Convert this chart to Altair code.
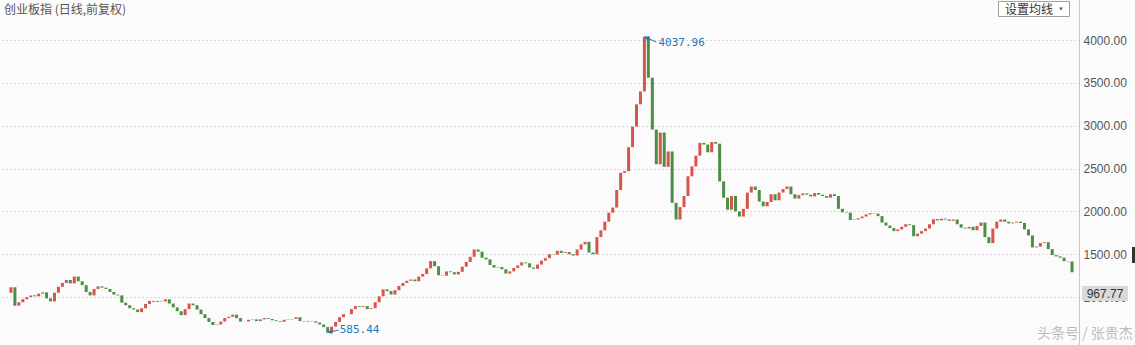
import altair as alt
import pandas as pd

# ---- text ----
title_text = "创业板指 (日线,前复权)"
button_text = "设置均线"
watermark_text = "头条号 / 张贵杰"
last_price_label = "967.77"
tick_values = [1000, 1500, 2000, 2500, 3000, 3500, 4000]

closes = [
    1050, 1115, 900, 940, 975, 1000, 1020, 1010, 1040, 1055,
    985, 950, 1050, 1120, 1165, 1200, 1160, 1240, 1185, 1140,
    1060, 1020, 1095, 1125, 1110, 1095, 1060, 1030, 1020, 935,
    905, 870, 855, 825, 870, 920, 955, 945, 955, 950,
    975, 925, 880, 835, 790, 860, 925, 905, 855, 800,
    755, 710, 675, 680, 715, 755, 770, 795, 755, 715,
    715, 735, 740, 720, 740, 755, 745, 730, 720, 712,
    735, 740, 745, 765, 720, 715, 722, 718, 702, 680,
    650, 585.44, 655, 710, 765, 800, 800, 860, 895, 885,
    895, 860, 870, 940, 1010, 1090, 1070, 1030, 1080, 1130,
    1165, 1190, 1205, 1185, 1240, 1270, 1335, 1420, 1360, 1255,
    1250, 1300, 1290, 1265, 1295, 1355, 1410, 1470, 1555, 1530,
    1460, 1440, 1375, 1345, 1350, 1325, 1275, 1300, 1340, 1370,
    1405, 1395, 1345, 1330, 1380, 1425, 1455, 1500, 1495, 1540,
    1515, 1525, 1500, 1485, 1555, 1615, 1645, 1520, 1500, 1700,
    1780, 1880, 1985, 2045, 2250, 2450, 2470, 2750, 2990, 3250,
    3400, 4037.96, 3560, 2955, 2550, 2920, 2520, 2700, 2100, 1905,
    2050, 2180, 2410, 2525, 2650, 2800, 2780, 2690, 2810, 2790,
    2350, 2160, 2020, 2180, 2000, 1940, 2030, 2220, 2290, 2250,
    2115, 2060, 2110, 2200, 2130, 2220, 2260, 2290, 2200, 2150,
    2190, 2210, 2195, 2175, 2215, 2195, 2180, 2160, 2200, 2180,
    2030, 1990, 1985, 1900, 1905, 1920, 1940, 1965, 1980, 1975,
    1945, 1870, 1835, 1805, 1770, 1790, 1820, 1850, 1840, 1710,
    1740, 1770, 1800, 1850, 1910, 1895, 1915, 1905, 1890, 1905,
    1850, 1810, 1800, 1820, 1780, 1830, 1870, 1700, 1630, 1800,
    1880, 1905, 1880, 1860, 1870, 1880, 1865, 1790, 1720, 1580,
    1590, 1630, 1640, 1560, 1490, 1475, 1460, 1420, 1415, 1290,
]

# ---- annotated extremes ----
ann_labels = ["4037.96", "585.44"]
ann_index = [161, 81]
ann_values = [4037.96, 585.44]

n = len(closes)
df = pd.DataFrame({"i": list(range(n)), "c": closes})
df["o"] = df["c"].shift(1).fillna(df["c"])

W, H = 1079, 345
xscale = alt.Scale(domain=[-0.5, n - 0.5], nice=False, zero=False)
yscale = alt.Scale(domain=[441, 4467], nice=False, zero=False)

RED = "#d64c42"
GREEN = "#42893a"
BLUE = "#2277bb"

base = alt.Chart(df)

candles = base.mark_bar(width=3, opacity=0.95).encode(
    x=alt.X("i:Q", scale=xscale, axis=None),
    y=alt.Y(
        "o:Q",
        scale=yscale,
        axis=alt.Axis(
            orient="right",
            values=tick_values,
            format=".2f",
            title=None,
            ticks=False,
            labelFont="Liberation Sans",
            labelFontSize=12,
            labelColor="#555555",
            labelPadding=4,
            domainColor="#c8c8c8",
            grid=True,
            gridColor="#b5b5b5",
            gridDash=[1, 3],
        ),
    ),
    y2="c:Q",
    color=alt.condition("datum.c >= datum.o", alt.value(RED), alt.value(GREEN)),
)

# annotation table (arrow tail and head placed just beside the extreme candle)
ann = pd.DataFrame({
    "label": ann_labels,
    "i": ann_index,
    "v": ann_values,
    "i2": [164.0, 83.75],
    "v2": [3976.0, 615.8],
    "ia": [161.7, 81.73],
    "va": [4024.0, 593.5],
    "angle": [294, 257],
})

arrows = alt.Chart(ann).mark_rule(color=BLUE, strokeWidth=1).encode(
    x=alt.X("i:Q", scale=xscale), y=alt.Y("v:Q", scale=yscale),
    x2="i2:Q", y2="v2:Q",
)
heads = alt.Chart(ann).mark_point(shape="triangle", filled=True, size=22, color=BLUE, opacity=1).encode(
    x=alt.X("ia:Q", scale=xscale), y=alt.Y("va:Q", scale=yscale),
    angle=alt.Angle("angle:Q", scale=None),
)
peak_text = alt.Chart(ann.iloc[[0]]).mark_text(
    align="left", baseline="middle", dx=14, dy=6, font="DejaVu Sans Mono", fontSize=11, color=BLUE
).encode(x=alt.X("i:Q", scale=xscale), y=alt.Y("v:Q", scale=yscale), text="label:N")
low_text = alt.Chart(ann.iloc[[1]]).mark_text(
    align="left", baseline="middle", dx=12, dy=-3, font="DejaVu Sans Mono", fontSize=11, color=BLUE
).encode(x=alt.X("i:Q", scale=xscale), y=alt.Y("v:Q", scale=yscale), text="label:N")

one = pd.DataFrame({"k": [0]})

title = alt.Chart(pd.DataFrame({"t": [title_text]})).mark_text(
    align="left", baseline="middle", font="Noto Sans CJK SC", fontSize=12, color="#555555"
).encode(x=alt.value(4), y=alt.value(10), text="t:N")

btn_box = alt.Chart(one).mark_rect(fill="#ffffff", stroke="#a0a0a0", strokeWidth=1).encode(
    x=alt.value(998.5), x2=alt.value(1069.5), y=alt.value(1.5), y2=alt.value(16.5)
)
btn_text = alt.Chart(pd.DataFrame({"t": [button_text]})).mark_text(
    align="left", baseline="middle", font="Noto Sans CJK SC", fontSize=12, color="#333333"
).encode(x=alt.value(1005), y=alt.value(9.5), text="t:N")
btn_arrow = alt.Chart(one).mark_point(shape="triangle-down", filled=True, size=14, color="#555555", opacity=1).encode(
    x=alt.value(1061), y=alt.value(9)
)

last_box = alt.Chart(one).mark_rect(fill="#d9d9d9").encode(
    x=alt.value(1082), x2=alt.value(1128), y=alt.value(286), y2=alt.value(301)
)
last_text = alt.Chart(pd.DataFrame({"t": [last_price_label]})).mark_text(
    align="center", baseline="middle", font="Liberation Sans", fontSize=12, color="#333333"
).encode(x=alt.value(1105), y=alt.value(294), text="t:N")

edge_bar = alt.Chart(one).mark_rect(fill="#333333").encode(
    x=alt.value(1132), x2=alt.value(1135), y=alt.value(247), y2=alt.value(263)
)

wm = alt.Chart(pd.DataFrame({"t": [watermark_text]})).mark_text(
    align="left", baseline="middle", font="Noto Sans CJK SC", fontSize=14, color="#bdbdbd"
).encode(x=alt.value(1037), y=alt.value(334), text="t:N")

chart = alt.layer(
    candles, arrows, heads, peak_text, low_text,
    title, btn_box, btn_text, btn_arrow, last_box, last_text, edge_bar, wm,
).properties(
    width=W, height=H,
    autosize=alt.AutoSizeParams(type="none"),
    padding={"left": 0, "top": 0, "right": 56, "bottom": 0},
    background="#fbfbfb",
).configure_view(stroke=None)

chart.save("out.html", embed_options={"renderer": "svg", "actions": False})
